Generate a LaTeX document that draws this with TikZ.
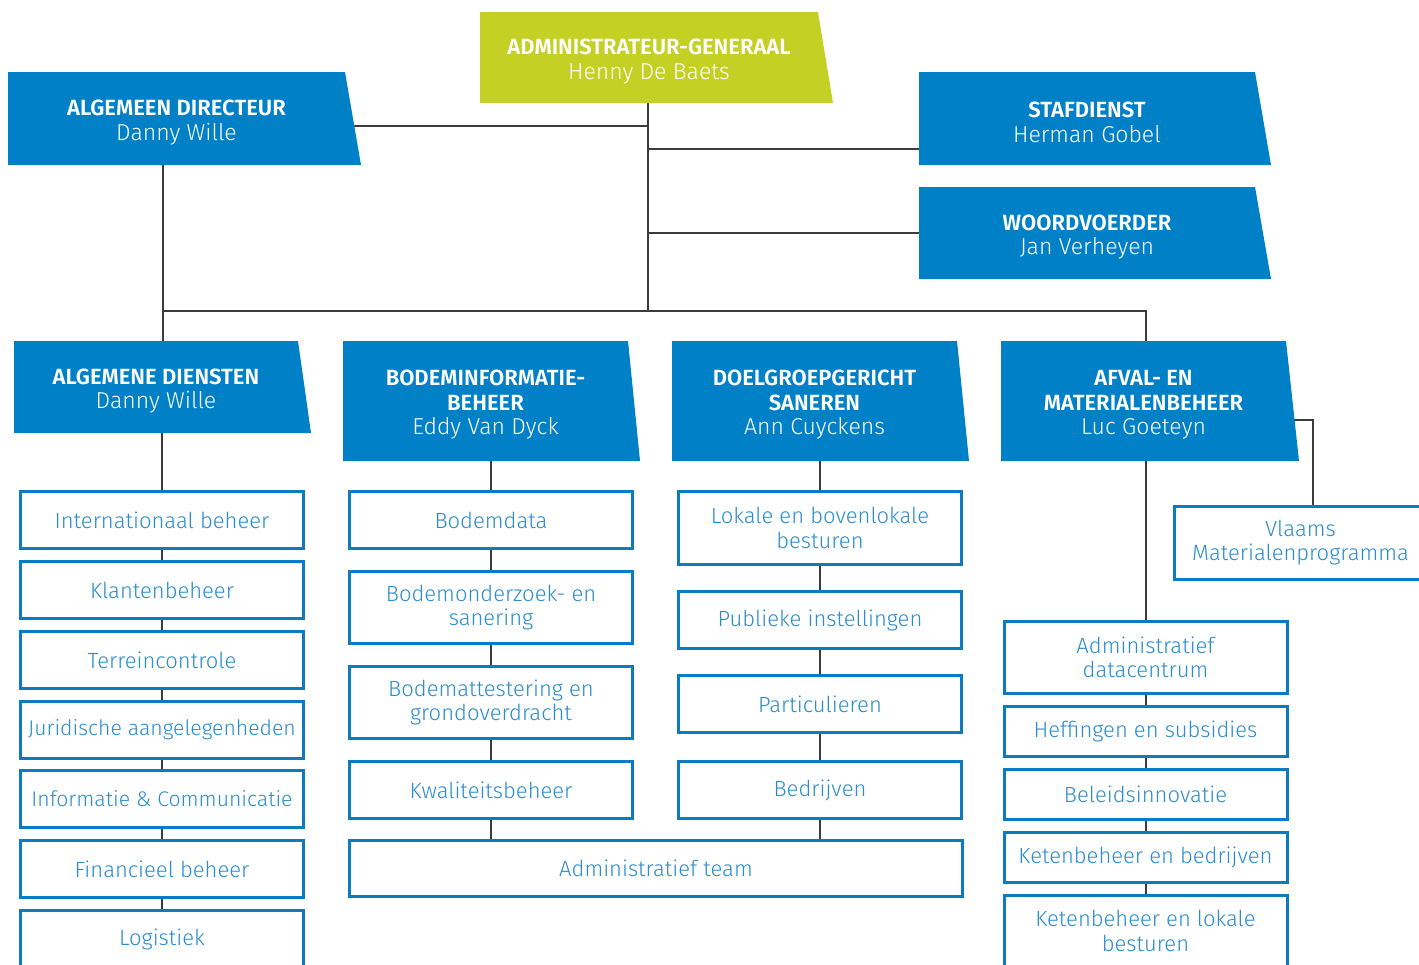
\documentclass[tikz,border=0pt]{standalone}
\usepackage{fontspec}
\setmainfont{Fira Sans}[UprightFont=* Light, BoldFont=* SemiBold]
\usetikzlibrary{backgrounds}
\definecolor{hdrblue}{HTML}{0080C6}
\definecolor{lime}{HTML}{C4D024}
\definecolor{boxblue}{HTML}{0B7CC1}
\definecolor{txtblue}{HTML}{2A8DD0}
\definecolor{linegray}{HTML}{3C3C3C}
\newcommand\ttl{\fontsize{22}{24.5}\selectfont\bfseries}
\newcommand\nme{\fontsize{23}{24.5}\selectfont\mdseries}
\tikzset{
  conn/.style={draw=linegray, line width=2pt},
  hdrtext/.style={inner sep=0pt, text=white, align=center, font=\fontsize{22}{24.5}\selectfont},
  unit/.style={draw=boxblue, line width=3pt, fill=white, text=txtblue, inner sep=0pt, align=center,
    font=\fontsize{22}{24.5}\selectfont, minimum width=283pt},
  narrowtext/.style={font=\fontsize{21.2}{24.5}\selectfont},
}
% #1 name, #2 left, #3 top, #4 top-right x, #5 bottom-right x, #6 bottom, #7 colour, #8 text
\newcommand\hdrshape[8]{%
  \fill[#7] (#2,#3) -- (#4,#3) -- (#5,#6) -- (#2,#6) -- cycle;
  \node[hdrtext, minimum width={(#4-#2)*1pt}, minimum height={(#6-#3)*1pt}] (#1) at ({(#2+#4)/2},{(#3+#6)/2}) {};
  \node[hdrtext] at ([yshift=-4pt]#1.center) {#8};
}
\begin{document}
\begin{tikzpicture}[x=1pt,y=-1pt]
\useasboundingbox (0,0) rectangle (1419,964);
\clip (0,0) rectangle (1419,964);
% headers
\hdrshape{admin}{480}{12}{818}{833}{103}{lime}{\ttl ADMINISTRATEUR-GENERAAL\\\nme Henny De Baets}
\hdrshape{adir}{8}{72}{345}{361}{165}{hdrblue}{\ttl ALGEMEEN DIRECTEUR\\\nme Danny Wille}
\hdrshape{staf}{919}{72}{1255}{1271}{165}{hdrblue}{\ttl STAFDIENST\\\nme Herman Gobel}
\hdrshape{woord}{919}{187}{1255}{1271}{279}{hdrblue}{\ttl WOORDVOERDER\\\nme Jan Verheyen}
\hdrshape{algd}{14}{341}{298}{311}{433}{hdrblue}{\ttl ALGEMENE DIENSTEN\\\nme Danny Wille}
\hdrshape{bodem}{343}{341}{628}{640}{461}{hdrblue}{\ttl BODEMINFORMATIE-\\\ttl BEHEER\\\nme Eddy Van Dyck}
\hdrshape{doel}{672}{341}{957}{969}{461}{hdrblue}{\ttl DOELGROEPGERICHT\\\ttl SANEREN\\\nme Ann Cuyckens}
\hdrshape{afval}{1001}{341}{1286}{1299}{461}{hdrblue}{\ttl AFVAL- EN\\\ttl MATERIALENBEHEER\\\nme Luc Goeteyn}
% column 1
\node[unit, minimum height=57pt] (c11) at (162,520) {Internationaal beheer};
\node[unit, minimum height=57pt] (c12) at (162,590) {Klantenbeheer};
\node[unit, minimum height=57pt] (c13) at (162,660) {Terreincontrole};
\node[unit, narrowtext, minimum height=57pt] (c14) at (162,730) {Juridische aangelegenheden};
\node[unit, narrowtext, minimum height=57pt] (c15) at (162,799) {Informatie \& Communicatie};
\node[unit, minimum height=57pt] (c16) at (162,869) {Financieel beheer};
\node[unit, minimum height=57pt] (c17) at (162,939) {Logistiek};
% column 2
\node[unit, minimum height=57pt] (c21) at (491,520) {Bodemdata};
\node[unit, minimum height=72pt] (c22) at (491,607.5) {Bodemonderzoek- en\\sanering};
\node[unit, minimum height=72pt] (c23) at (491,702.5) {Bodemattestering en\\grondoverdracht};
\node[unit, minimum height=57pt] (c24) at (491,790) {Kwaliteitsbeheer};
% column 3
\node[unit, minimum height=73pt] (c31) at (820,528) {Lokale en bovenlokale\\besturen};
\node[unit, minimum height=57pt] (c32) at (820,620) {Publieke instellingen};
\node[unit, minimum height=57pt] (c33) at (820,704) {Particulieren};
\node[unit, minimum height=57pt] (c34) at (820,790) {Bedrijven};
% shared
\node[unit, minimum width=613pt, minimum height=56pt] (team) at (656,868.5) {Administratief team};
% column 4
\node[unit, minimum height=72pt] (c41) at (1145.5,657.5) {Administratief\\datacentrum};
\node[unit, minimum height=50pt] (c42) at (1145.5,731.5) {Heffingen en subsidies};
\node[unit, minimum height=50pt] (c43) at (1145.5,794.5) {Beleidsinnovatie};
\node[unit, minimum height=50pt] (c44) at (1145.5,857.5) {Ketenbeheer en bedrijven};
\node[unit, minimum height=72pt] (c45) at (1145.5,931) {Ketenbeheer en lokale\\besturen};
\node[unit, minimum width=252pt, minimum height=73pt] (vmp) at (1300.5,542.5) {Vlaams\\Materialenprogramma};
% connectors
\begin{pgfonlayer}{background}
\coordinate (jl) at (163,311);
\coordinate (jm) at (648,311);
\coordinate (jr) at (1146,311);
\coordinate (ja) at (648,126);
\coordinate (js) at (648,149);
\coordinate (jw) at (648,233);
\coordinate (jv) at (1313,420);
\draw[conn] (admin.south -| jm) -- (jm);
\draw[conn] (adir.east |- ja) -- (ja);
\draw[conn] (js) -- (staf.west |- js);
\draw[conn] (jw) -- (woord.west |- jw);
\draw[conn] (adir.south -| jl) -- (jl) -- (jm) -- (jr) -- (afval.north -| jr);
\draw[conn] (jl) -- (algd.north -| jl);
\draw[conn] (algd.south -| c11) -- (c17.center);
\draw[conn] (bodem.south -| c21) -- (team.north -| c21);
\draw[conn] (doel.south -| c31) -- (team.north -| c31);
\draw[conn] (afval.south -| jr) -- (c45.center -| jr);
\draw[conn] (afval.east |- jv) -- (jv) -- (vmp.north -| jv);
\end{pgfonlayer}
\end{tikzpicture}
\end{document}
